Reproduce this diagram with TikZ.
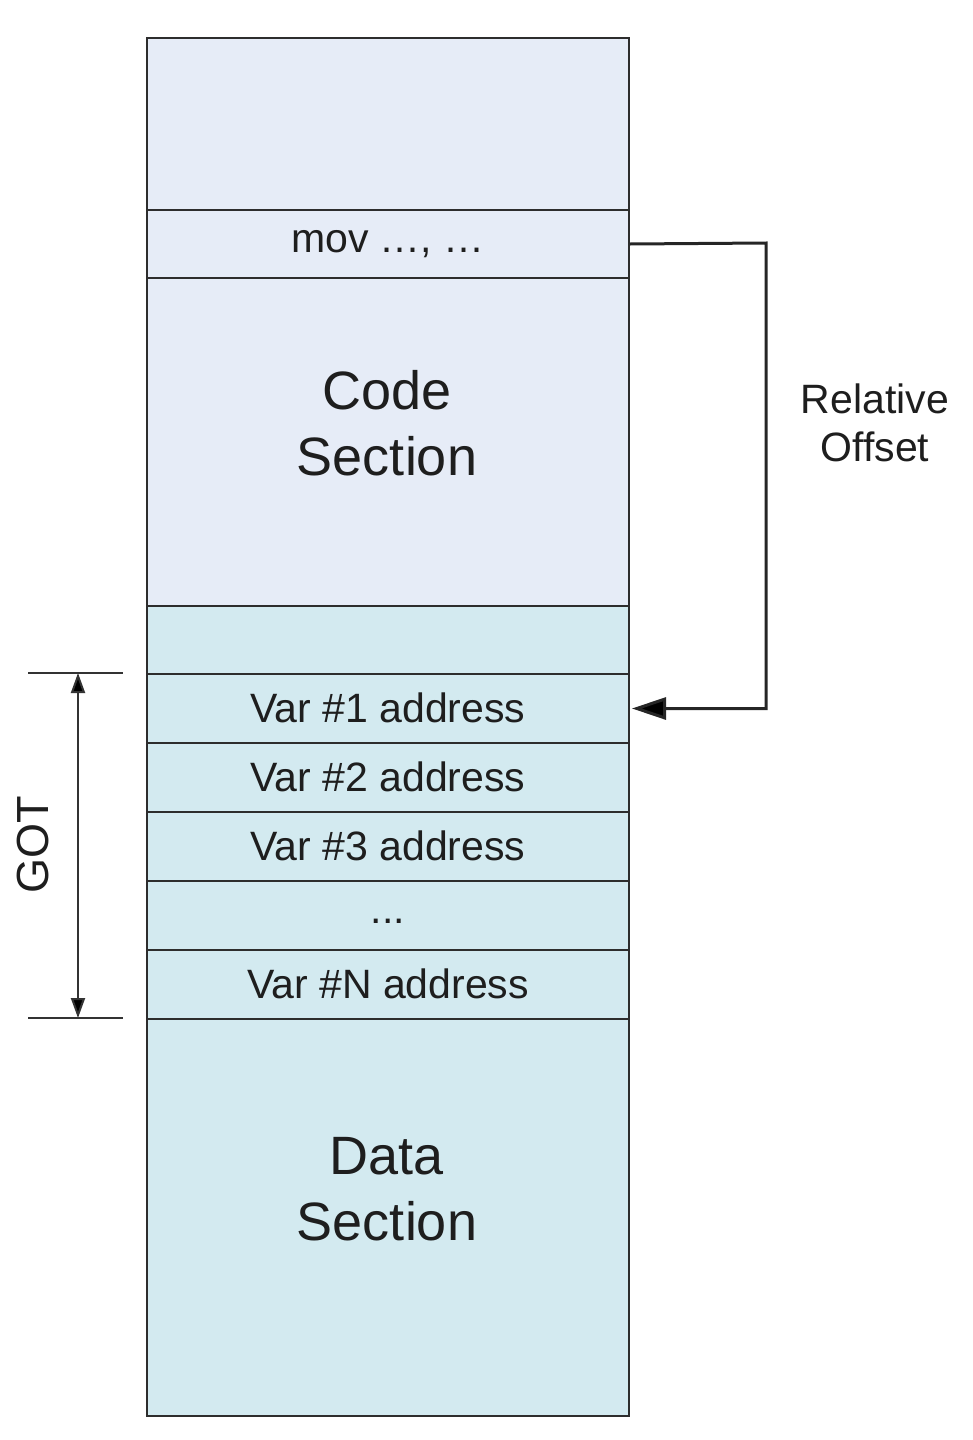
\documentclass[tikz,border=0pt]{standalone}
\usepackage{fontspec}
\setmainfont{Liberation Sans}
\usetikzlibrary{arrows.meta}
\definecolor{codefill}{RGB}{230,236,247}
\definecolor{datafill}{RGB}{211,234,240}
\definecolor{linec}{RGB}{45,45,45}
\definecolor{textc}{RGB}{30,30,30}
\begin{document}
\begin{tikzpicture}[x=1pt,y=-1pt,
  cell/.style={draw=linec, line width=2pt, minimum width=482pt, inner sep=0pt, anchor=north west, text=textc, font=\fontsize{41}{48}\selectfont},
  codecell/.style={cell, fill=codefill},
  datacell/.style={cell, fill=datafill, text height=28pt, text depth=0pt},
  bigtext/.style={font=\fontsize{54}{66}\selectfont, align=center, text=textc},
  conn/.style={draw=black!85, line width=3pt, -{Triangle[length=34pt,width=22pt,fill=black]}},
  dim/.style={draw=black!80, line width=2pt},
  dimarrow/.style={draw=black!80, line width=2pt, {Triangle[length=20pt,width=14pt,fill=black]}-{Triangle[length=20pt,width=14pt,fill=black]}}]
\useasboundingbox (0,0) rectangle (972,1440);
% code part
\node[codecell, minimum height=172pt] (top) at (146,37) {};
\node[codecell, minimum height=68pt] (mov) at (146,209) {mov …, …};
\node[codecell, minimum height=328pt] (code) at (146,277) {};
\node[bigtext] (codelbl) at (387,423) {Code\\Section};
% data part
\node[datacell, minimum height=68pt] (gap) at (146,605) {};
\node[datacell, minimum height=69pt] (v1) at (146,673) {Var \#1 address};
\node[datacell, minimum height=69pt] (v2) at (146,742) {Var \#2 address};
\node[datacell, minimum height=69pt] (v3) at (146,811) {Var \#3 address};
\node[datacell, minimum height=69pt] (vd) at (146,880) {\raisebox{6pt}{...}};
\node[datacell, minimum height=69pt] (vn) at (146,949) {Var \#N address};
\node[datacell, minimum height=397pt] (data) at (146,1018) {};
\node[bigtext] (datalbl) at (387,1189) {Data\\Section};
% relative offset arrow
\coordinate (turn) at (766,243);
\draw[conn] (mov.east) -- (turn) |- ([xshift=2pt]v1.east);
\node[font=\fontsize{41}{48}\selectfont, align=center, text=textc] (rel) at (875,423) {Relative\\Offset};
% GOT dimension
\coordinate (gta) at (28,673);
\coordinate (gtb) at (123,673);
\coordinate (gba) at (28,1018);
\coordinate (gbb) at (123,1018);
\coordinate (ga) at (78,673);
\coordinate (gb) at (78,1018);
\draw[dim] (gta) -- (gtb);
\draw[dim] (gba) -- (gbb);
\draw[dimarrow] (ga) -- (gb);
\node[font=\fontsize{45}{50}\selectfont, rotate=90, text=textc] (got) at (33,845) {GOT};
\end{tikzpicture}
\end{document}
